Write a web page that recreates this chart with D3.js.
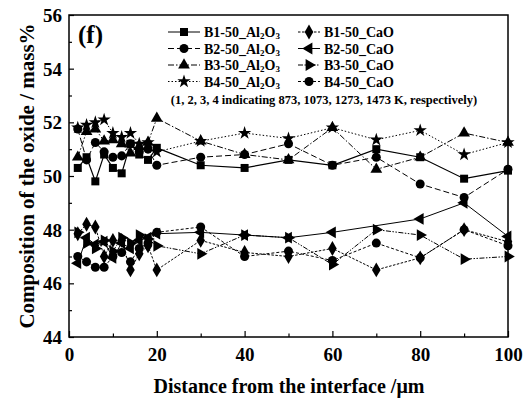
<!DOCTYPE html>
<html>
<head>
<meta charset="utf-8">
<script src="https://cdn.jsdelivr.net/npm/d3@7"></script>
<style>
  body { margin: 0; background: #fff; }
  text { font-family: "Liberation Serif", "Times New Roman", serif; font-weight: bold; fill: #000; }
</style>
</head>
<body>
<div id="chart"></div>
<script>
// distance from interface (um)
const distance = [2, 4, 6, 8, 10, 12, 14, 16, 18, 20, 30, 40, 50, 60, 70, 80, 90, 100];

const b1Al2O3 = [50.3, 50.7, 49.8, 50.8, 50.3, 50.1, 51.2, 50.8, 50.6, 51.05, 50.4, 50.3, 50.6, 50.4, 51.0, 50.7, 49.9, 50.2];
const b2Al2O3 = [51.75, 50.6, 51.25, 50.9, 50.7, 50.75, 51.2, 50.9, 51.0, 50.4, 50.7, 50.8, 51.2, 50.4, 50.7, 49.7, 49.2, 50.25];
const b3Al2O3 = [50.7, 51.65, 51.75, 51.3, 51.35, 51.2, 50.85, 51.1, 51.25, 52.15, 51.3, 50.8, 50.6, 51.8, 50.25, 50.7, 51.6, 51.25];
const b4Al2O3 = [51.8, 51.9, 52.0, 52.1, 51.6, 51.45, 51.6, 51.2, 51.25, 50.9, 51.3, 51.6, 51.4, 51.8, 51.35, 51.7, 50.8, 51.25];

const b1CaO = [47.85, 48.2, 48.1, 47.0, 47.6, 47.6, 46.5, 47.1, 47.4, 46.5, 47.6, 47.15, 47.0, 47.3, 46.5, 46.95, 48.0, 47.55];
const b2CaO = [46.75, 47.7, 47.45, 47.55, 46.95, 47.5, 47.3, 47.6, 47.7, 47.85, 47.9, 47.8, 47.7, 47.9, null, 48.4, 49.0, 47.75];
const b3CaO = [47.9, 47.5, 47.3, 47.6, 47.2, 47.7, 47.5, 47.8, 47.65, 47.4, 47.1, 47.8, 47.7, 46.7, 48.0, 47.8, 46.9, 47.0];
const b4CaO = [47.0, 46.8, 46.6, 46.6, 47.0, 47.15, 46.8, 47.3, 47.5, 47.9, 48.1, 47.0, 47.2, 46.85, 47.5, 46.95, 48.0, 47.4];

const xTicks = [0, 20, 40, 60, 80, 100];
const yTicks = [44, 46, 48, 50, 52, 54, 56];

const series = [
  { name: "B1-50_", ox: "Al", values: b1Al2O3, symbol: d3.symbolSquare, rot: 0, dash: null },
  { name: "B2-50_", ox: "Al", values: b2Al2O3, symbol: d3.symbolCircle, rot: 0, dash: "6,3" },
  { name: "B3-50_", ox: "Al", values: b3Al2O3, symbol: d3.symbolTriangle, rot: 0, dash: "6,2,1.5,2" },
  { name: "B4-50_", ox: "Al", values: b4Al2O3, symbol: d3.symbolStar, rot: 0, dash: "1.5,2" },
  { name: "B1-50_CaO", ox: "Ca", values: b1CaO, symbol: d3.symbolDiamond, rot: 0, dash: "2.5,1.5" },
  { name: "B2-50_CaO", ox: "Ca", values: b2CaO, symbol: d3.symbolTriangle, rot: -90, dash: null },
  { name: "B3-50_CaO", ox: "Ca", values: b3CaO, symbol: d3.symbolTriangle, rot: 90, dash: "5,1.5,1.5,1.5,1.5,1.5" },
  { name: "B4-50_CaO", ox: "Ca", values: b4CaO, symbol: d3.symbolCircle, rot: 0, dash: "3,2" }
];

const width = 526, height = 400;
const margin = { left: 69, right: 18, top: 15, bottom: 63 };

const svg = d3.select("#chart").append("svg")
  .attr("width", width)
  .attr("height", height);

const x = d3.scaleLinear().domain([0, 100]).range([margin.left, width - margin.right]);
const y = d3.scaleLinear().domain([44, 56]).range([height - margin.bottom, margin.top]);

// frame
svg.append("rect")
  .attr("x", x(0)).attr("y", y(56))
  .attr("width", x(100) - x(0)).attr("height", y(44) - y(56))
  .attr("fill", "none").attr("stroke", "#000").attr("stroke-width", 1.5);

// bottom axis, inward ticks
const xAxis = svg.append("g").attr("transform", `translate(0,${y(44)})`)
  .call(d3.axisBottom(x).tickValues(d3.range(0, 101, 10)).tickSize(-5).tickFormat(d => xTicks.includes(d) ? d : ""));
xAxis.selectAll(".tick line").attr("y2", d => xTicks.includes(d) ? -6 : -3.5).attr("stroke-width", 1.2);
xAxis.selectAll(".tick text").attr("dy", 0).attr("y", 24).style("font-size", "19px");
xAxis.select(".domain").remove();

const yAxis = svg.append("g").attr("transform", `translate(${x(0)},0)`)
  .call(d3.axisLeft(y).tickValues(d3.range(44, 56.1, 1)).tickSize(-5).tickFormat(d => yTicks.includes(d) ? d : ""));
yAxis.selectAll(".tick line").attr("x2", d => yTicks.includes(d) ? 5 : 3).attr("stroke-width", 1.2);
yAxis.selectAll(".tick text").attr("x", -7).attr("dy", "0.34em").style("font-size", "19px");
yAxis.select(".domain").remove();

svg.append("text")
  .attr("x", 289).attr("y", 393)
  .attr("text-anchor", "middle").style("font-size", "20px")
  .text("Distance from the interface /μm");

svg.append("text")
  .attr("transform", `translate(34,${(y(44) + y(56)) / 2}) rotate(-90)`)
  .attr("text-anchor", "middle").style("font-size", "21px")
  .text("Composition of the oxide / mass%");

svg.append("text").attr("x", 78).attr("y", 43).style("font-size", "25px").text("(f)");

const line = d3.line().x(d => x(d[0])).y(d => y(d[1]));

function marker(sel, s) {
  sel.attr("d", d3.symbol().type(s.symbol).size(s.symbol === d3.symbolStar ? 55 : (s.symbol === d3.symbolTriangle ? 60 : 64)))
    .attr("fill", "#000");
}

series.forEach(s => {
  const pts = distance.map((d, i) => [d, s.values[i]]).filter(p => p[1] != null);
  svg.append("path")
    .attr("d", line(pts))
    .attr("fill", "none")
    .attr("stroke", "#000")
    .attr("stroke-width", s.ox === "Al" && s.dash === null ? 1.2 : 1)
    .attr("stroke-dasharray", s.dash);
  svg.append("g").selectAll("path").data(pts).enter().append("path")
    .attr("transform", p => `translate(${x(p[0])},${y(p[1])}) rotate(${s.rot})`)
    .call(marker, s);
});

// legend
const legendRows = [32, 48.5, 65, 81.5];
series.forEach((s, i) => {
  const col = i < 4 ? 0 : 1;
  const ly = legendRows[i % 4];
  const lx0 = col === 0 ? 168 : 298, lx1 = col === 0 ? 200 : 320;
  const g = svg.append("g");
  g.append("line").attr("x1", lx0).attr("x2", lx1).attr("y1", ly).attr("y2", ly)
    .attr("stroke", "#000").attr("stroke-width", 1).attr("stroke-dasharray", s.dash);
  g.append("path").attr("transform", `translate(${(lx0 + lx1) / 2},${ly}) rotate(${s.rot})`).call(marker, s);
  const t = g.append("text").attr("x", lx1 + 4).attr("y", ly + 5).style("font-size", "14px");
  if (s.ox === "Al") {
    t.append("tspan").text(s.name + "Al");
    t.append("tspan").attr("dy", 2).style("font-size", "9px").text("2");
    t.append("tspan").attr("dy", -2).text("O");
    t.append("tspan").attr("dy", 2).style("font-size", "9px").text("3");
  } else {
    t.text(s.name);
  }
});

svg.append("text").attr("x", 324).attr("y", 104).attr("text-anchor", "middle")
  .style("font-size", "12.5px")
  .text("(1, 2, 3, 4 indicating 873, 1073, 1273, 1473 K, respectively)");
</script>
</body>
</html>
